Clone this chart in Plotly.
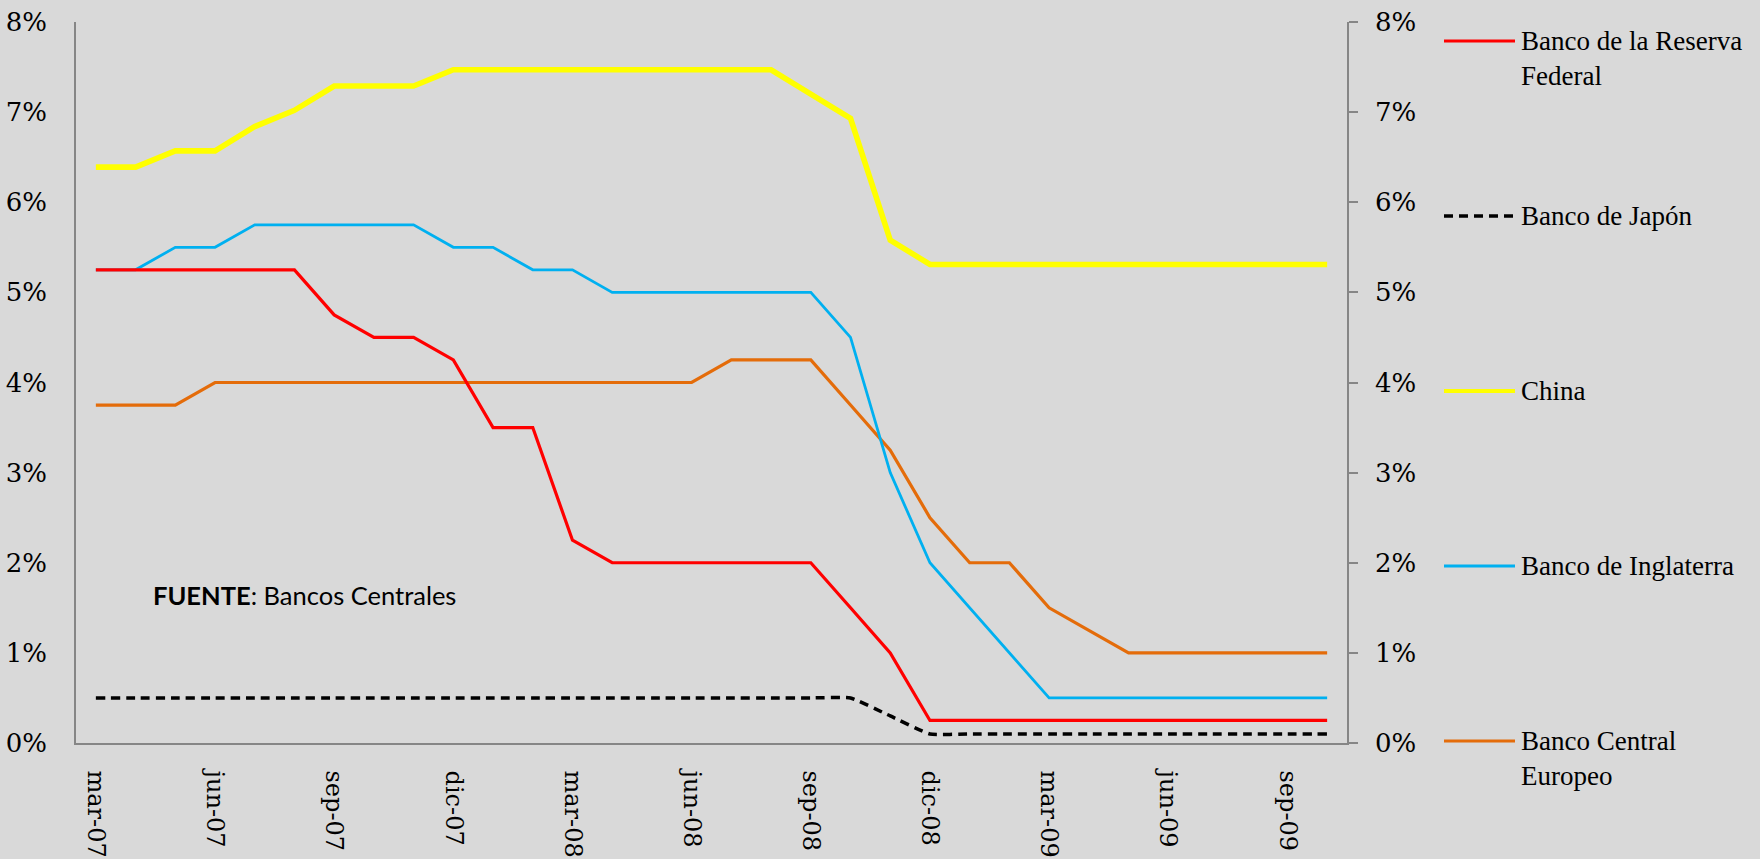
import plotly.graph_objects as go

# Monthly policy rates (%) of major central banks, Mar-2007 to Oct-2009
months = [
    "mar-07", "abr-07", "may-07", "jun-07", "jul-07", "ago-07", "sep-07", "oct-07",
    "nov-07", "dic-07", "ene-08", "feb-08", "mar-08", "abr-08", "may-08", "jun-08",
    "jul-08", "ago-08", "sep-08", "oct-08", "nov-08", "dic-08", "ene-09", "feb-09",
    "mar-09", "abr-09", "may-09", "jun-09", "jul-09", "ago-09", "sep-09", "oct-09",
]

fed = [5.25, 5.25, 5.25, 5.25, 5.25, 5.25, 4.75, 4.50, 4.50, 4.25, 3.50, 3.50,
       2.25, 2.00, 2.00, 2.00, 2.00, 2.00, 2.00, 1.50, 1.00, 0.25, 0.25, 0.25,
       0.25, 0.25, 0.25, 0.25, 0.25, 0.25, 0.25, 0.25]

japon = [0.5, 0.5, 0.5, 0.5, 0.5, 0.5, 0.5, 0.5, 0.5, 0.5, 0.5, 0.5,
         0.5, 0.5, 0.5, 0.5, 0.5, 0.5, 0.5, 0.5, 0.3, 0.1, 0.1, 0.1,
         0.1, 0.1, 0.1, 0.1, 0.1, 0.1, 0.1, 0.1]

china = [6.39, 6.39, 6.57, 6.57, 6.84, 7.02, 7.29, 7.29, 7.29, 7.47, 7.47, 7.47,
         7.47, 7.47, 7.47, 7.47, 7.47, 7.47, 7.20, 6.93, 5.58, 5.31, 5.31, 5.31,
         5.31, 5.31, 5.31, 5.31, 5.31, 5.31, 5.31, 5.31]

inglaterra = [5.25, 5.25, 5.50, 5.50, 5.75, 5.75, 5.75, 5.75, 5.75, 5.50, 5.50, 5.25,
              5.25, 5.00, 5.00, 5.00, 5.00, 5.00, 5.00, 4.50, 3.00, 2.00, 1.50, 1.00,
              0.50, 0.50, 0.50, 0.50, 0.50, 0.50, 0.50, 0.50]

bce = [3.75, 3.75, 3.75, 4.00, 4.00, 4.00, 4.00, 4.00, 4.00, 4.00, 4.00, 4.00,
       4.00, 4.00, 4.00, 4.00, 4.25, 4.25, 4.25, 3.75, 3.25, 2.50, 2.00, 2.00,
       1.50, 1.25, 1.00, 1.00, 1.00, 1.00, 1.00, 1.00]

y_ticks = [0, 1, 2, 3, 4, 5, 6, 7, 8]
x_ticks = months[::3]

series = [
    # values, legend label, colour, width, dash
    (fed, "Banco de la Reserva<br>Federal", "#FF0000", 3.2, "solid"),
    (japon, "Banco de Japón", "#000000", 3.5, "9px,6px"),
    (china, "China", "#FFFF00", 5.6, "solid"),
    (inglaterra, "Banco de Inglaterra", "#00B0F0", 2.8, "solid"),
    (bce, "Banco Central<br>Europeo", "#E46C0A", 3.2, "solid"),
]
legend_rows_px = [41, 216, 391, 566, 741]

# Figure geometry (pixels)
W, H = 1760, 859
L, R, T, B = 76, 1347, 22, 743
BG = "#D9D9D9"
AXIS = "#868686"


def px_x(px):
    return (px - L) / (R - L)


def px_y(py):
    return (B - py) / (B - T)


fig = go.Figure()

# Draw order: keep the yellow line beneath the thinner ones
for idx in [2, 4, 3, 0, 1]:
    vals, label, color, width, dash = series[idx]
    fig.add_trace(go.Scatter(
        x=months, y=vals, mode="lines", name=label.replace("<br>", " "),
        line=dict(color=color, width=width, dash=dash,
                  shape="spline" if idx == 1 else "linear", smoothing=0.4),
        showlegend=False, hoverinfo="x+y+name",
    ))

# Invisible companion trace so the right-hand axis is drawn
fig.add_trace(go.Scatter(x=months, y=fed, yaxis="y2", mode="lines",
                         line=dict(width=0), opacity=0, showlegend=False,
                         hoverinfo="skip"))

serif = "DejaVu Serif"
legend_font = "Liberation Serif"

fig.update_layout(
    width=W, height=H,
    margin=dict(l=L, r=W - R, t=T, b=H - B, pad=0, autoexpand=False),
    paper_bgcolor=BG, plot_bgcolor=BG,
    showlegend=False,
    xaxis=dict(
        type="category", range=[-0.5, len(months) - 0.5],
        tickmode="array", tickvals=x_ticks, ticktext=x_ticks,
        tickangle=90, ticks="", showgrid=False, zeroline=False,
        showline=True, linecolor=AXIS, linewidth=1.5, automargin=False,
        tickfont=dict(family=serif, size=24, color="#000000"),
        ticklabelstandoff=21,
    ),
    yaxis=dict(
        range=[0, 8], tickmode="array", tickvals=y_ticks,
        ticktext=[f"{v}%" for v in y_ticks],
        ticks="", showgrid=False, zeroline=False,
        showline=True, linecolor=AXIS, linewidth=1.5, automargin=False,
        tickfont=dict(family=serif, size=26, color="#000000"),
        ticklabelstandoff=22,
    ),
    yaxis2=dict(
        overlaying="y", side="right", anchor="x",
        range=[0, 8], tickmode="array", tickvals=y_ticks,
        ticktext=[f"{v}%" for v in y_ticks],
        ticks="outside", ticklen=9, tickwidth=1.5, tickcolor=AXIS,
        showgrid=False, zeroline=False, automargin=False,
        showline=True, linecolor=AXIS, linewidth=1.5,
        tickfont=dict(family=serif, size=26, color="#000000"),
        ticklabelstandoff=12,
    ),
)

# Legend at the right: sample line + label
line_x0, line_x1, text_x = 1444, 1515, 1519
for (vals, label, color, width, dash), row in zip(series, legend_rows_px):
    fig.add_shape(
        type="line", xref="paper", yref="paper",
        x0=px_x(line_x0), x1=px_x(line_x1), y0=px_y(row), y1=px_y(row),
        line=dict(color=color, width=min(width, 4), dash=dash),
    )
    fig.add_annotation(
        xref="paper", yref="paper", x=px_x(text_x), y=px_y(row - 17),
        xanchor="left", yanchor="top", align="left", showarrow=False, text=label,
        font=dict(family=legend_font, size=27, color="#000000"),
    )

# Source note
fig.add_annotation(
    xref="paper", yref="paper", x=px_x(151), y=px_y(595),
    xanchor="left", yanchor="middle", showarrow=False,
    text="<b>FUENTE</b>: Bancos Centrales",
    font=dict(family="Lato", size=25.5, color="#000000"),
)

fig.write_html("out.html")
